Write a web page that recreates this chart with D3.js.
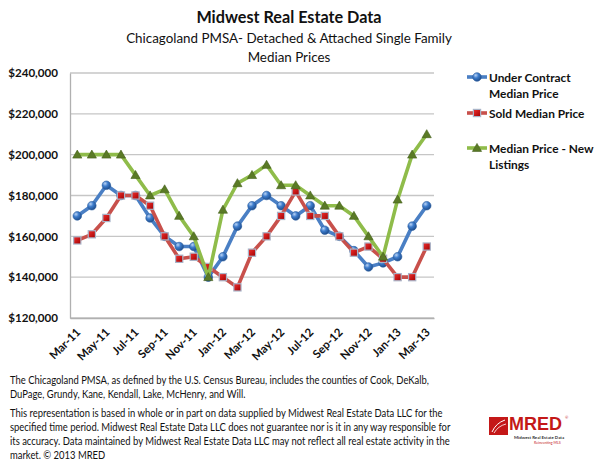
<!DOCTYPE html>
<html>
<head>
<meta charset="utf-8">
<script src="https://cdn.jsdelivr.net/npm/d3@7"></script>
<style>
  html, body { margin: 0; padding: 0; background: #fff; }
  svg { display: block; }
</style>
</head>
<body>
<svg id="chart" width="600" height="463"></svg>
<script>
const months = ["Mar-11","Apr-11","May-11","Jun-11","Jul-11","Aug-11","Sep-11","Oct-11","Nov-11","Dec-11","Jan-12","Feb-12","Mar-12","Apr-12","May-12","Jun-12","Jul-12","Aug-12","Sep-12","Oct-12","Nov-12","Dec-12","Jan-13","Feb-13","Mar-13"];
const tickLabels = ["Mar-11","May-11","Jul-11","Sep-11","Nov-11","Jan-12","Mar-12","May-12","Jul-12","Sep-12","Nov-12","Jan-13","Mar-13"];
const underContract = [170000,175000,185000,180000,180000,169000,160000,155000,155000,140000,150000,165000,175000,180000,175000,170000,175000,163000,160000,153000,145000,147000,150000,165000,175000];
const soldMedian = [158000,161000,169000,180000,180000,175000,160000,149000,150000,145000,140000,135000,152000,160000,170000,182000,170000,170000,160000,152000,155000,149000,140000,140000,155000];
const newListings = [200000,200000,200000,200000,190000,180000,183000,170000,160000,140000,173000,186000,190000,195000,185000,185000,180000,175000,175000,170000,160000,150000,178000,200000,210000];
const yTicks = [120000,140000,160000,180000,200000,220000,240000];
const seriesNames = ["Under Contract Median Price","Sold Median Price","Median Price - New Listings"];
const titleText = "Midwest Real Estate Data";
const subtitleLines = ["Chicagoland PMSA- Detached & Attached Single Family","Median Prices"];
const footnote1 = ["The Chicagoland PMSA, as defined by the U.S. Census Bureau, includes the counties of Cook, DeKalb,","DuPage, Grundy, Kane, Kendall, Lake, McHenry, and Will."];
const footnote2 = ["This representation is based in whole or in part on data supplied by Midwest Real Estate Data LLC for the","specified time period. Midwest Real Estate Data LLC does not guarantee nor is it in any way responsible for","its accuracy. Data maintained by Midwest Real Estate Data LLC may not reflect all real estate activity in the","market. \u00A9 2013 MRED"];

const svg = d3.select("#chart");
const font = "Lato, 'Open Sans', sans-serif";

// defs
const defs = svg.append("defs");
const grad = defs.append("radialGradient").attr("id","ball").attr("cx","35%").attr("cy","30%").attr("r","70%");
grad.append("stop").attr("offset","0%").attr("stop-color","#b9d3f5");
grad.append("stop").attr("offset","45%").attr("stop-color","#3d7ccc");
grad.append("stop").attr("offset","100%").attr("stop-color","#1f4f8f");
const gradR = defs.append("linearGradient").attr("id","sq").attr("x1","0").attr("y1","0").attr("x2","1").attr("y2","1");
gradR.append("stop").attr("offset","0%").attr("stop-color","#f03030");
gradR.append("stop").attr("offset","100%").attr("stop-color","#a00000");

// titles
svg.append("text").attr("x",289).attr("y",23).attr("text-anchor","middle")
  .attr("font-family",font).attr("font-weight",700).attr("font-size",16.2).attr("fill","#111").text(titleText);
subtitleLines.forEach((t,i)=>{
  svg.append("text").attr("x",289).attr("y",43+i*19).attr("text-anchor","middle")
    .attr("font-family",font).attr("font-size",13.4).attr("fill","#111").text(t);
});

// scales
const plot = {left:70, right:434, top:73, bottom:318};
const x = d3.scaleBand().domain(months).range([plot.left, plot.right]);
const cx = m => x(m) + x.bandwidth()/2;
const y = d3.scaleLinear().domain([120000,240000]).range([plot.bottom, plot.top]);

// gridlines
svg.append("g").selectAll("line").data(yTicks).join("line")
  .attr("x1",plot.left).attr("x2",plot.right)
  .attr("y1",d=>y(d)).attr("y2",d=>y(d))
  .attr("stroke","#c6c6c6").attr("stroke-width",1.3);

// y axis
const yAxis = d3.axisLeft(y).tickValues(yTicks).tickFormat(d3.format("$,")).tickSize(0).tickPadding(12);
const gy = svg.append("g").attr("transform",`translate(${plot.left},0)`).call(yAxis);
gy.select(".domain").attr("stroke","#b0b0b0").attr("stroke-width",1.3);
gy.selectAll("text").attr("font-family",font).attr("font-weight",700).attr("font-size",11.6).attr("fill","#111");

// x axis
const xAxis = d3.axisBottom(x).tickValues(tickLabels).tickSize(0).tickFormat(d=>d);
const gx = svg.append("g").attr("transform",`translate(0,${plot.bottom})`).call(xAxis);
gx.select(".domain").attr("stroke","#b0b0b0").attr("stroke-width",1.3);
gx.selectAll("text")
  .attr("font-family",font).attr("font-weight",700).attr("font-size",11.5).attr("fill","#111")
  .attr("text-anchor","end").attr("dy",0).attr("y",0)
  .attr("transform","translate(4,15) rotate(-45)");

// series
const series = [
  {name:seriesNames[0], values:underContract, color:"#4a7fc4", marker:"circle"},
  {name:seriesNames[1], values:soldMedian, color:"#c8504b", marker:"square"},
  {name:seriesNames[2], values:newListings, color:"#8fbc4a", marker:"triangle"}
];
const line = d3.line().x((d,i)=>cx(months[i])).y(d=>y(d));

function drawMarker(g, type, px, py) {
  if (type==="circle") {
    g.append("circle").attr("cx",px).attr("cy",py).attr("r",4.3).attr("fill","url(#ball)").attr("stroke","#2a5c9e").attr("stroke-width",0.6);
  } else if (type==="square") {
    g.append("rect").attr("x",px-3.6).attr("y",py-3.6).attr("width",7.2).attr("height",7.2)
      .attr("fill","url(#sq)").attr("stroke","#a9b4c8").attr("stroke-width",1.2);
  } else {
    const s = 4.6;
    g.append("path").attr("d",`M${px},${py-s}L${px+s},${py+s*0.75}L${px-s},${py+s*0.75}Z`)
      .attr("fill","#5a7a26").attr("stroke","#44601c").attr("stroke-width",0.6);
  }
}

series.forEach(s=>{
  const g = svg.append("g");
  g.append("path").datum(s.values).attr("d",line).attr("fill","none")
    .attr("stroke",s.color).attr("stroke-width",3.6).attr("stroke-linejoin","round").attr("stroke-linecap","round");
  s.values.forEach((v,i)=>drawMarker(g, s.marker, cx(months[i]), y(v)));
});

// legend
const legendRows = [
  {lines:["Under Contract","Median Price"], y:77},
  {lines:["Sold Median Price"], y:113},
  {lines:["Median Price - New","Listings"], y:148}
];
legendRows.forEach((r,i)=>{
  const g = svg.append("g");
  g.append("line").attr("x1",467).attr("x2",487).attr("y1",r.y).attr("y2",r.y)
    .attr("stroke",series[i].color).attr("stroke-width",3.6);
  drawMarker(g, series[i].marker, 477, r.y);
  r.lines.forEach((t,j)=>{
    g.append("text").attr("x",489).attr("y",r.y+4.5+j*16)
      .attr("font-family",font).attr("font-weight",700).attr("font-size",11.9).attr("fill","#111").text(t);
  });
});

// footnotes (horizontally condensed to match the narrow original face)
const fn = svg.append("g").attr("transform","translate(10,0) scale(0.875,1)");
footnote1.forEach((t,i)=>{
  fn.append("text").attr("x",0).attr("y",384+i*14)
    .attr("font-family",font).attr("font-size",10.8).attr("fill","#111").text(t);
});
footnote2.forEach((t,i)=>{
  fn.append("text").attr("x",0).attr("y",417+i*14)
    .attr("font-family",font).attr("font-size",10.8).attr("fill","#111").text(t);
});

// logo
const logo = svg.append("g");
logo.append("rect").attr("x",489).attr("y",417).attr("width",19).attr("height",18).attr("fill","#c41818");
logo.append("path").attr("d","M492,432 Q496,423 505,420").attr("fill","none").attr("stroke","#fff").attr("stroke-width",1);
logo.append("path").attr("d","M494,433 Q498,426 506,424").attr("fill","none").attr("stroke","#fff").attr("stroke-width",0.8);
logo.append("text").attr("x",509).attr("y",430).attr("font-family","'Liberation Sans', Arial, sans-serif")
  .attr("font-weight",700).attr("font-size",18).attr("fill","#c41818").text("MRED");
logo.append("text").attr("x",565).attr("y",419).attr("font-family",font).attr("font-size",4).attr("fill","#c41818").text("\u00AE");
logo.append("text").attr("x",514).attr("y",439).attr("font-family",font).attr("font-weight",700).attr("font-size",4.4).attr("fill","#333").text("Midwest Real Estate Data");
logo.append("text").attr("x",534).attr("y",443.5).attr("font-family",font).attr("font-size",3.6).attr("fill","#c41818").text("Reinventing MLS");
</script>
</body>
</html>
